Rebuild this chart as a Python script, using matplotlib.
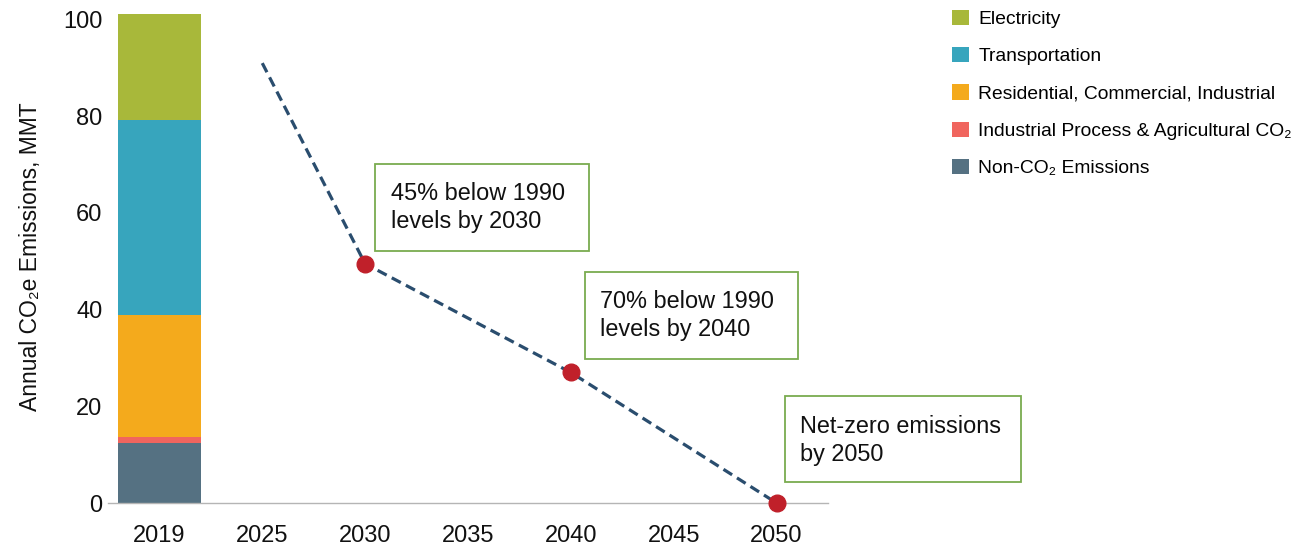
import matplotlib
matplotlib.use("Agg")
import matplotlib.pyplot as plt
from matplotlib.patches import Rectangle

plt.rcParams['font.family'] = ['Liberation Sans', 'DejaVu Sans']

# x categories (evenly spaced on the axis)
years = ["2019", "2025", "2030", "2035", "2040", "2045", "2050"]

# 2019 emissions by sector, MMT CO2e (bottom to top)
sectors = ["Non-CO\u2082 Emissions",
           "Industrial Process & Agricultural CO\u2082",
           "Residential, Commercial, Industrial",
           "Transportation",
           "Electricity"]
values_2019 = [12.4, 1.2, 25.2, 40.4, 21.9]
colors = ["#557182", "#f0655e", "#f4aa1c", "#37a5bd", "#a8b83a"]

# target pathway
path_years = ["2025", "2030", "2040", "2050"]
path_values = [91.0, 49.5, 27.0, 0.0]
target_years = ["2030", "2040", "2050"]
target_values = [49.5, 27.0, 0.0]

notes = ["45% below 1990\nlevels by 2030",
         "70% below 1990\nlevels by 2040",
         "Net-zero emissions\nby 2050"]

fig = plt.figure(figsize=(13.12, 5.53), dpi=100)
ax = fig.add_axes([0.0823, 0.0904, 0.5488, 0.8916])

pos = {y: i for i, y in enumerate(years)}

# stacked bar
bottom = 0
handles = []
for name, val, col in zip(sectors, values_2019, colors):
    b = ax.bar(pos["2019"], val, bottom=bottom, width=0.8, color=col, label=name, zorder=2)
    handles.append(b)
    bottom += val

# dashed pathway + target dots
ax.plot([pos[y] for y in path_years], path_values, linestyle=(0, (3.2, 1.8)),
        color="#2a4d6e", linewidth=2.3, zorder=3, clip_on=False)
ax.plot([pos[y] for y in target_years], target_values, "o", color="#c0202a",
        markersize=12, zorder=4, clip_on=False)

# annotation boxes: (x0, x1, y0, y1, text x, text y)
boxes = [(2.097, 4.175, 52.2, 70.2, 2.25, 61.2),
         (4.136, 6.204, 29.8, 47.8, 4.28, 38.8),
         (6.078, 8.38, 4.3, 22.2, 6.23, 13.0)]
for (x0, x1, y0, y1, tx, ty), note in zip(boxes, notes):
    ax.add_patch(Rectangle((x0, y0), x1 - x0, y1 - y0, fill=True, facecolor="white",
                           edgecolor="#7aab4f", linewidth=1.3, zorder=5, clip_on=False))
    ax.text(tx, ty, note, fontsize=16.9, va="center", ha="left", linespacing=1.28,
            color="#111111", zorder=6, clip_on=False)

ax.set_xlim(-0.5, 6.5)
ax.set_ylim(0, 102)
ax.set_xticks(range(len(years)))
ax.set_xticklabels(years)
ax.set_yticks([0, 20, 40, 60, 80, 100])
ax.tick_params(axis="both", length=0, labelsize=17, colors="#111111")
ax.tick_params(axis="x", pad=16)
ax.tick_params(axis="y", pad=4)
ax.set_ylabel("Annual CO\u2082e Emissions, MMT", fontsize=16.5, labelpad=15, color="#111111")

for s in ["top", "right", "left"]:
    ax.spines[s].set_visible(False)
ax.spines["bottom"].set_color("#b5b5b5")
ax.spines["bottom"].set_linewidth(1.0)

fig.legend(handles[::-1], sectors[::-1], loc="upper left", bbox_to_anchor=(0.7185, 1.0),
           frameon=False, fontsize=13.9, handlelength=0.85, handleheight=0.85,
           handletextpad=0.5, labelspacing=0.98, borderpad=0)

fig.savefig("out.png", dpi=100, facecolor="white")
